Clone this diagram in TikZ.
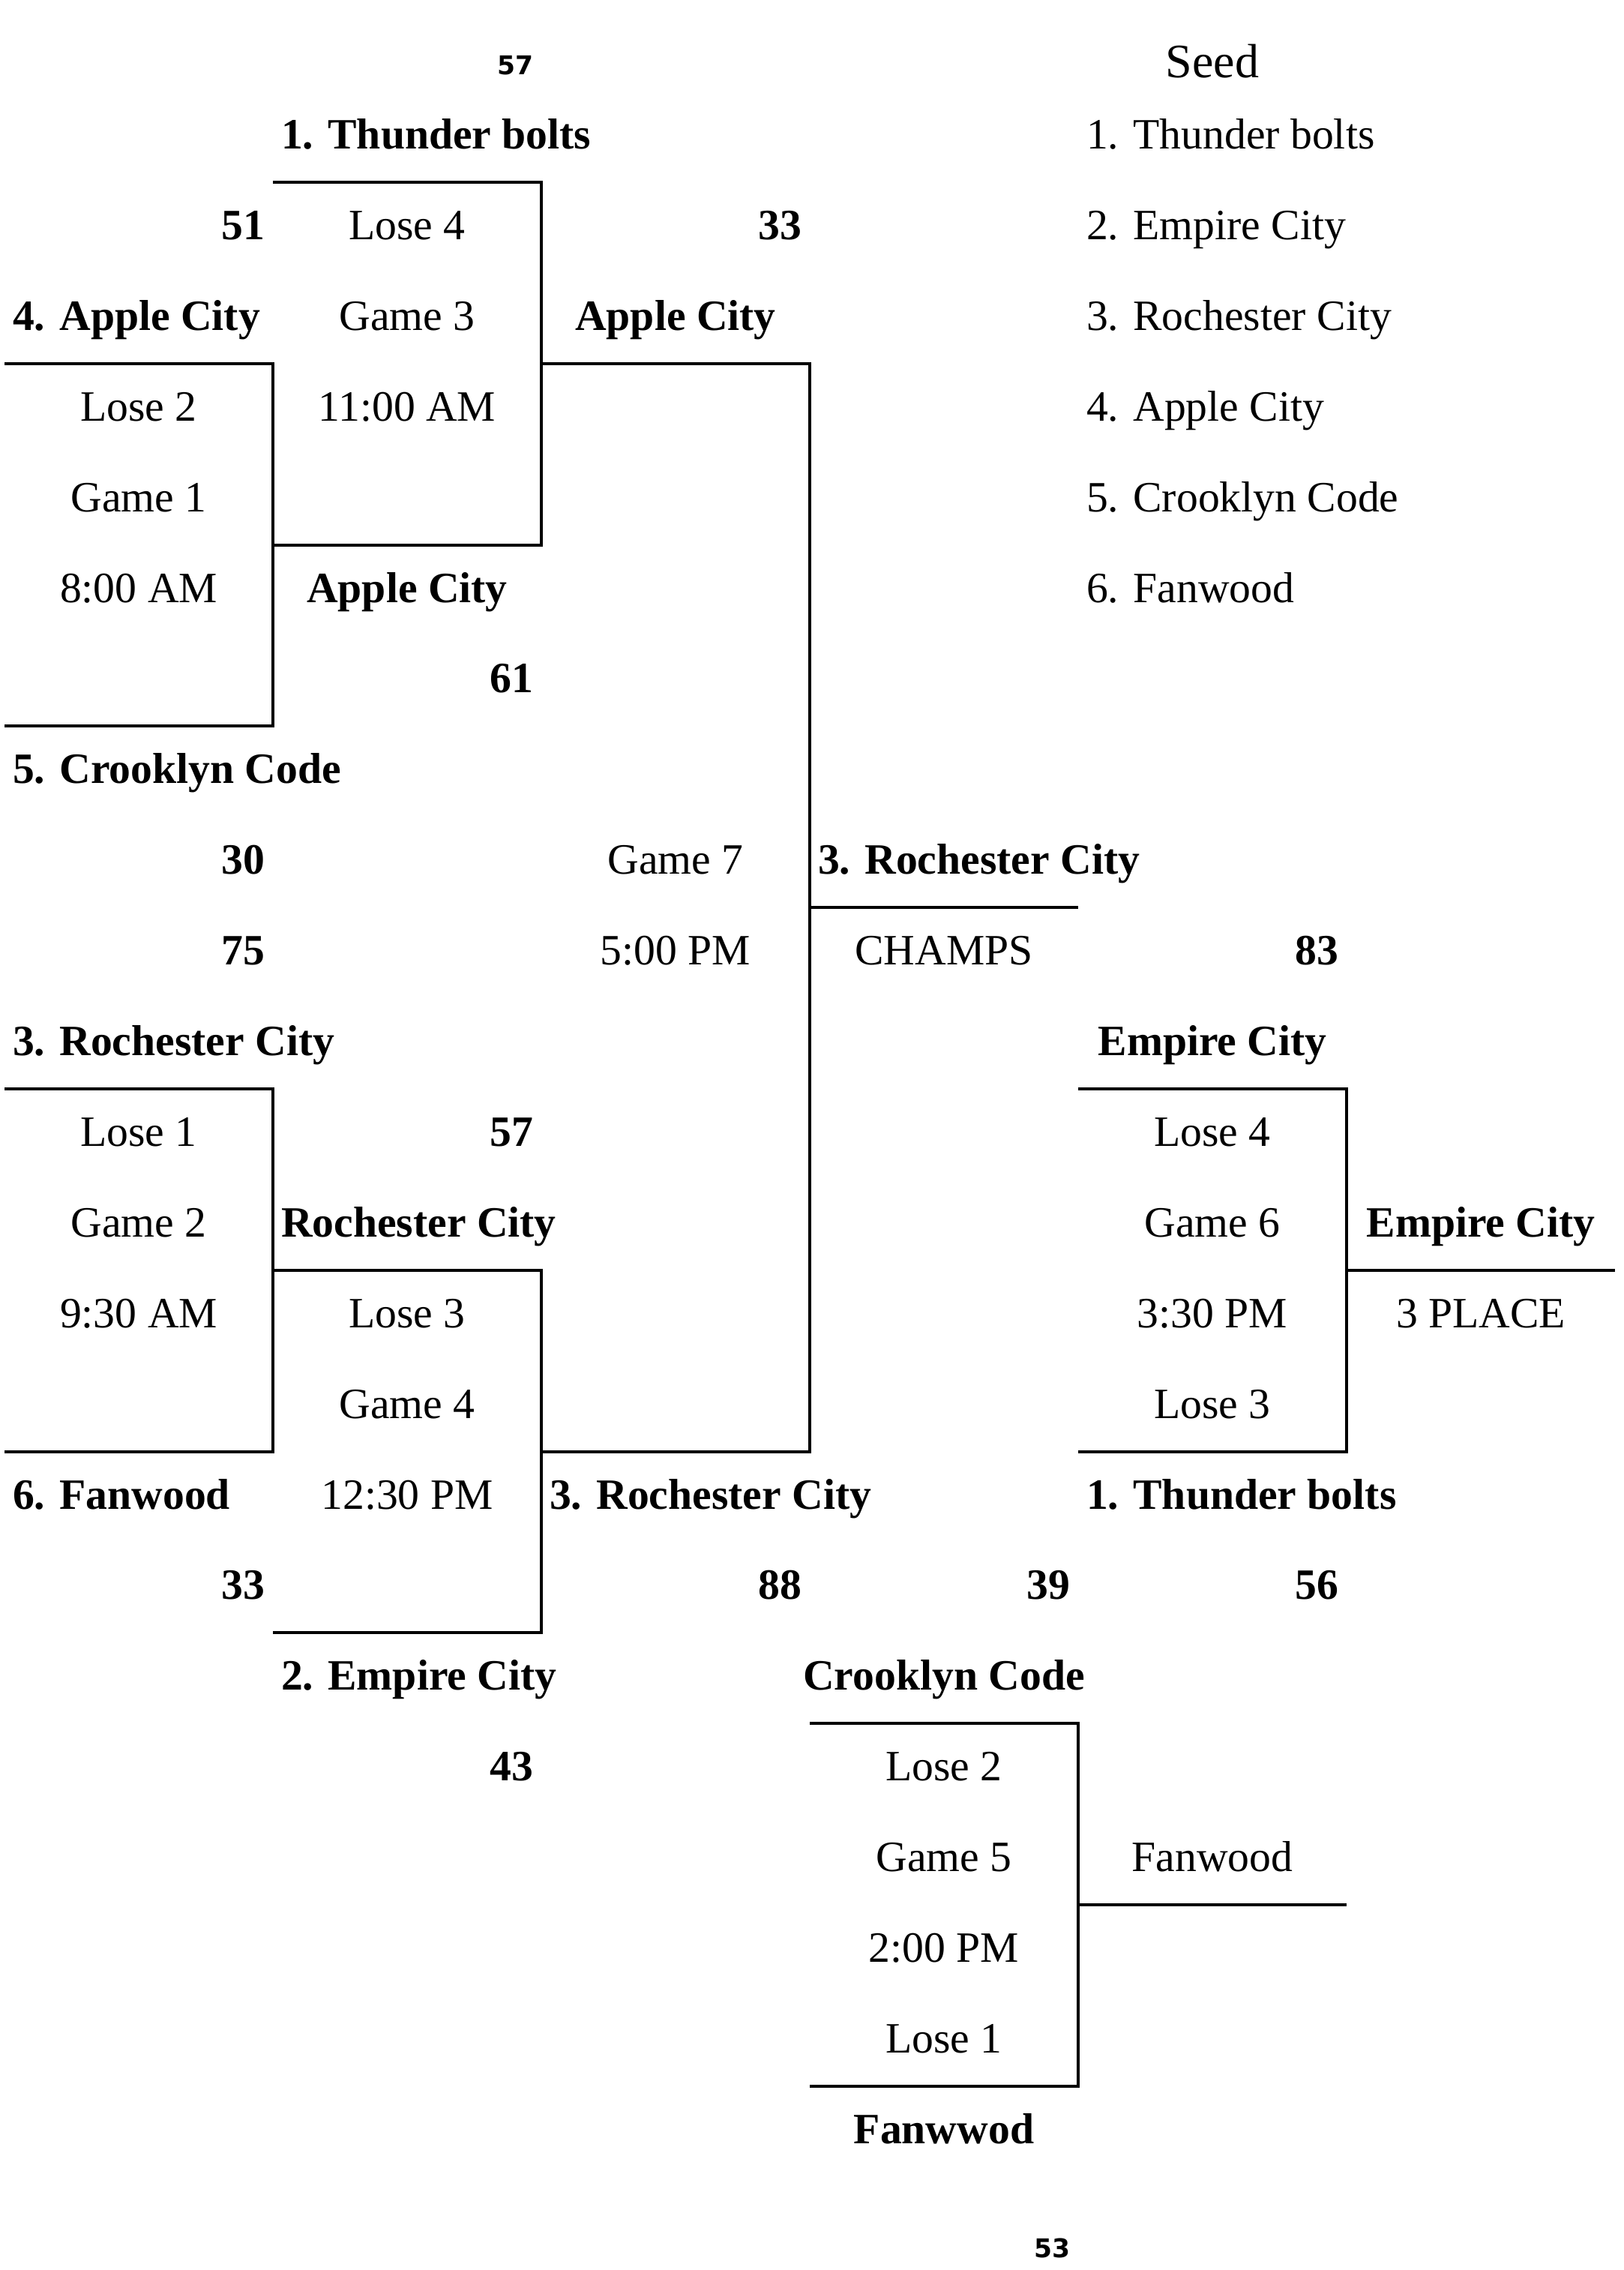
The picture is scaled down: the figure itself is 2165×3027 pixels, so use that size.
\documentclass[tikz,border=0pt]{standalone}
\usepackage{fontspec}
\setmainfont{Liberation Serif}
\newfontfamily\scorefont{DejaVu Sans}

\begin{document}
\begin{tikzpicture}[
  x=0.01cm, y=-0.01cm,
  font=\fontsize{16.4}{19}\selectfont,
  line width=1.15pt,
  lbl/.style={inner sep=0pt,anchor=base},
  team/.style={lbl,font=\fontsize{16.4}{19}\selectfont\bfseries},
  tleft/.style={team,anchor=base west},
  score/.style={team,anchor=base east},
  seed/.style={lbl,anchor=base west},
  pagenum/.style={lbl,anchor=base east,font=\scorefont\bfseries\fontsize{9.8}{12}\selectfont},
]
\useasboundingbox (0,0) rectangle (2165,3027);

% loose numbers top and bottom
\node[pagenum] (ptop) at (713,100) {57};
\node[pagenum] (pbot) at (1429,3010) {53};

% seed list
\node[lbl,font=\fontsize{18.2}{21}\selectfont] (seedhd) at (1617,103) {Seed};
\node[seed] (s1) at (1447,198.5) {1. Thunder bolts};
\node[seed] (s2) at (1447,319.4) {2. Empire City};
\node[seed] (s3) at (1447,440.3) {3. Rochester City};
\node[seed] (s4) at (1447,561.2) {4. Apple City};
\node[seed] (s5) at (1447,682.1) {5. Crooklyn Code};
\node[seed] (s6) at (1447,803.0) {6. Fanwood};

% bracket lines
\coordinate (g1a) at (6,484.8);    \coordinate (g1b) at (364,968.4);
\coordinate (g3a) at (364,243);    \coordinate (g3b) at (722,726.6);
\coordinate (g2a) at (6,1452);     \coordinate (g2b) at (364,1935.6);
\coordinate (g4a) at (364,1693.8); \coordinate (g4b) at (722,2177.4);
\coordinate (g7a) at (722,484.8);  \coordinate (g7b) at (1080,1935.6);
\coordinate (g6a) at (1438,1452);  \coordinate (g6b) at (1796,1935.6);
\coordinate (g5a) at (1080,2298.3);\coordinate (g5b) at (1438,2781.9);
\coordinate (g7o) at (1080,1210.2); \coordinate (champ) at (1438,1210.2);
\coordinate (g6o) at (1796,1693.8); \coordinate (third) at (2154,1693.8);
\coordinate (g5o) at (1438,2540.1); \coordinate (g5w) at (1796,2540.1);

\draw (g1a) -| (g1b) -- (g1a |- g1b);
\draw (g3a) -| (g3b) -- (g3a |- g3b);
\draw (g2a) -| (g2b) -- (g2a |- g2b);
\draw (g4a) -| (g4b) -- (g4a |- g4b);
\draw (g7a) -| (g7b) -- (g7a |- g7b);
\draw (g6a) -| (g6b) -- (g6a |- g6b);
\draw (g5a) -| (g5b) -- (g5a |- g5b);
\draw (g7o) -- (champ);
\draw (g6o) -- (third);
\draw (g5o) -- (g5w);

% game 1
\node[tleft] (t4) at (15,440.3) {4. Apple City};
\node[score] (sc51) at (355,319.4) {51};
\node[lbl] (g1l) at (185,561.2) {Lose 2};
\node[lbl] (g1n) at (185,682.1) {Game 1};
\node[lbl] (g1t) at (185,803.0) {8:00 AM};
\node[tleft] (t5) at (15,1044.8) {5. Crooklyn Code};
\node[score] (sc30) at (355,1165.7) {30};

% game 3
\node[tleft] (t1) at (373,198.5) {1. Thunder bolts};
\node[lbl] (g3l) at (543,319.4) {Lose 4};
\node[lbl] (g3n) at (543,440.3) {Game 3};
\node[lbl] (g3t) at (543,561.2) {11:00 AM};
\node[team] (w1) at (543,803.0) {Apple City};
\node[score] (sc61) at (713,923.9) {61};
\node[score] (sc33a) at (1071,319.4) {33};
\node[team] (w3) at (901,440.3) {Apple City};

% game 2
\node[score] (sc75) at (355,1286.6) {75};
\node[tleft] (t3) at (15,1407.5) {3. Rochester City};
\node[lbl] (g2l) at (185,1528.4) {Lose 1};
\node[lbl] (g2n) at (185,1649.3) {Game 2};
\node[lbl] (g2t) at (185,1770.2) {9:30 AM};
\node[tleft] (t6) at (15,2012.0) {6. Fanwood};
\node[score] (sc33b) at (355,2132.9) {33};

% game 4
\node[score] (sc57) at (713,1528.4) {57};
\node[tleft] (w2) at (373,1649.3) {Rochester City};
\node[lbl] (g4l) at (543,1770.2) {Lose 3};
\node[lbl] (g4n) at (543,1891.1) {Game 4};
\node[lbl] (g4t) at (543,2012.0) {12:30 PM};
\node[tleft] (t2) at (373,2253.8) {2. Empire City};
\node[score] (sc43) at (713,2374.7) {43};
\node[tleft] (w4) at (731,2012.0) {3. Rochester City};
\node[score] (sc88) at (1071,2132.9) {88};

% game 7
\node[lbl] (g7n) at (901,1165.7) {Game 7};
\node[lbl] (g7t) at (901,1286.6) {5:00 PM};
\node[tleft] (w7) at (1089,1165.7) {3. Rochester City};
\node[lbl] (champs) at (1259,1286.6) {CHAMPS};

% game 6
\node[score] (sc83) at (1787,1286.6) {83};
\node[team] (e6) at (1617,1407.5) {Empire City};
\node[lbl] (g6l) at (1617,1528.4) {Lose 4};
\node[lbl] (g6n) at (1617,1649.3) {Game 6};
\node[lbl] (g6t) at (1617,1770.2) {3:30 PM};
\node[lbl] (g6m) at (1617,1891.1) {Lose 3};
\node[tleft] (tb6) at (1447,2012.0) {1. Thunder bolts};
\node[score] (sc56) at (1787,2132.9) {56};
\node[team] (w6) at (1975,1649.3) {Empire City};
\node[lbl] (place) at (1975,1770.2) {3 PLACE};

% game 5
\node[score] (sc39) at (1429,2132.9) {39};
\node[team] (c5) at (1259,2253.8) {Crooklyn Code};
\node[lbl] (g5l) at (1259,2374.7) {Lose 2};
\node[lbl] (g5n) at (1259,2495.6) {Game 5};
\node[lbl] (g5t) at (1259,2616.5) {2:00 PM};
\node[lbl] (g5m) at (1259,2737.4) {Lose 1};
\node[team] (f5) at (1259,2858.3) {Fanwwod};
\node[lbl] (w5) at (1617,2495.6) {Fanwood};
\end{tikzpicture}
\end{document}
